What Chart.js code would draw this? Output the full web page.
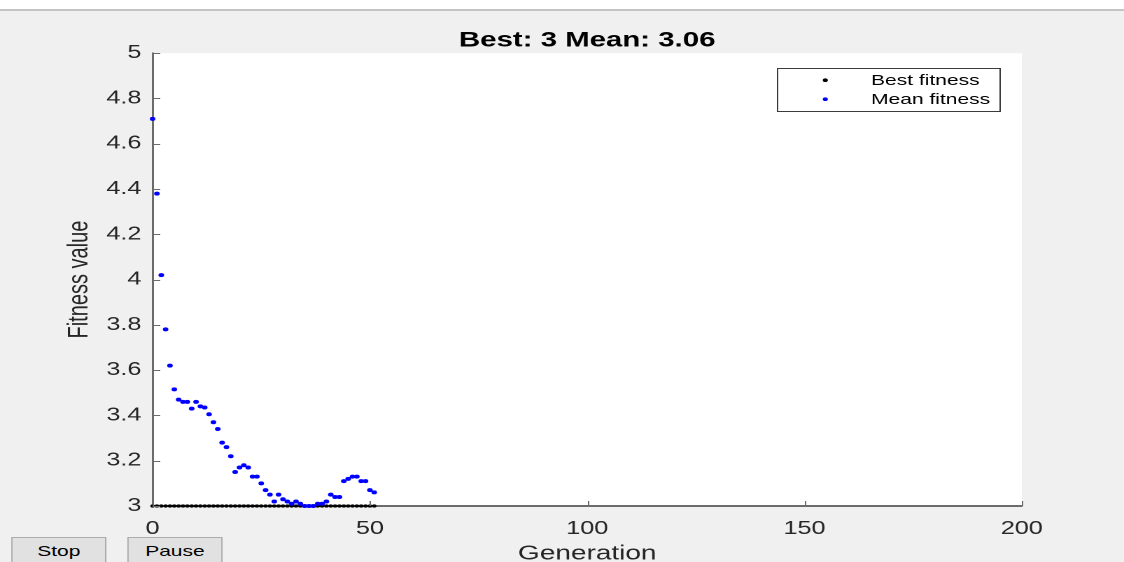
<!DOCTYPE html>
<html>
<head>
<meta charset="utf-8">
<script src="https://cdn.jsdelivr.net/npm/chart.js@4.4.1/dist/chart.umd.min.js"></script>
<style>
  html, body { margin: 0; padding: 0; background: #f0f0f0; overflow: hidden; }
  /* the reference screenshot is stretched sideways, so the whole figure is too */
  #stage { position: absolute; left: 0; top: 0; width: 803px; height: 562px; transform: scaleX(1.39975); transform-origin: 0 0; }
  .btn { position: absolute; top: 537px; width: 68px; height: 27px; box-sizing: border-box; background: #e1e1e1; border: 1px solid #adadad; font: 15px "Liberation Sans", Arial, sans-serif; color: #000; text-align: center; line-height: 25px; }
</style>
</head>
<body>
<div id="stage">
  <canvas id="myChart"></canvas>
  <div class="btn" style="left:8px">Stop</div>
  <div class="btn" style="left:91px">Pause</div>
</div>
<script>
const generations = [0, 1, 2, 3, 4, 5, 6, 7, 8, 9, 10, 11, 12, 13, 14, 15, 16, 17, 18, 19, 20, 21, 22, 23, 24, 25,
  26, 27, 28, 29, 30, 31, 32, 33, 34, 35, 36, 37, 38, 39, 40, 41, 42, 43, 44, 45, 46, 47, 48, 49, 50, 51];
const bestFitness = [3, 3, 3, 3, 3, 3, 3, 3, 3, 3, 3, 3, 3, 3, 3, 3, 3, 3, 3, 3, 3, 3, 3, 3, 3, 3,
  3, 3, 3, 3, 3, 3, 3, 3, 3, 3, 3, 3, 3, 3, 3, 3, 3, 3, 3, 3, 3, 3, 3, 3, 3, 3];
const meanFitness = [4.71, 4.38, 4.02, 3.78, 3.62, 3.515, 3.47, 3.46, 3.46, 3.43, 3.46, 3.44, 3.435, 3.405,
  3.37, 3.34, 3.28, 3.26, 3.22, 3.15, 3.17, 3.18, 3.17, 3.13, 3.13, 3.10, 3.07, 3.05, 3.02, 3.05,
  3.03, 3.02, 3.01, 3.02, 3.01, 3.00, 3.00, 3.00, 3.01, 3.01, 3.02, 3.05, 3.04, 3.04, 3.11, 3.12,
  3.13, 3.13, 3.11, 3.11, 3.07, 3.06];
const xTickValues = [0, 50, 100, 150, 200];
const yTickValues = [3, 3.2, 3.4, 3.6, 3.8, 4, 4.2, 4.4, 4.6, 4.8, 5];

const FONT = '"Liberation Sans", Arial, sans-serif';
const AXIS = '#6b6b6b';

const toPoints = (ys) => generations.map((g, i) => ({ x: g, y: ys[i] }));

// grey window, white top strip and white axes area
const backdrop = {
  id: 'backdrop',
  beforeDraw(chart) {
    const { ctx, width, height, chartArea: a } = chart;
    ctx.save();
    ctx.fillStyle = '#f0f0f0';
    ctx.fillRect(0, 0, width, height);
    ctx.fillStyle = '#ffffff';
    ctx.fillRect(0, 0, width, 9);
    ctx.fillStyle = '#c4c4c4';
    ctx.fillRect(0, 9, width, 2);
    ctx.fillStyle = '#ffffff';
    ctx.fillRect(a.left, a.top, a.right - a.left, a.bottom - a.top);
    ctx.restore();
  }
};

// matlab style ticks pointing into the axes
const innerTicks = {
  id: 'innerTicks',
  afterDraw(chart) {
    const { ctx, chartArea: a } = chart;
    const xs = chart.scales.x, ys = chart.scales.y;
    ctx.save();
    ctx.strokeStyle = AXIS;
    ctx.lineWidth = 1;
    ctx.beginPath();
    xs.ticks.forEach(t => {
      const px = Math.round(xs.getPixelForValue(t.value)) + 0.5;
      ctx.moveTo(px, a.bottom);
      ctx.lineTo(px, a.bottom - 5);
    });
    ys.ticks.forEach(t => {
      const py = Math.round(ys.getPixelForValue(t.value)) + 0.5;
      ctx.moveTo(a.left, py);
      ctx.lineTo(a.left + 5.5, py);
    });
    ctx.stroke();
    ctx.restore();
  }
};

// boxed legend in the upper right of the axes
const boxLegend = {
  id: 'boxLegend',
  afterDraw(chart) {
    const { ctx, chartArea: a } = chart;
    const w = 159, h = 43;
    const x0 = a.right - 15.7 - w, y0 = a.top + 14.3;
    ctx.save();
    ctx.fillStyle = '#ffffff';
    ctx.fillRect(x0, y0, w, h);
    ctx.strokeStyle = '#3a3a3a';
    ctx.lineWidth = 1;
    ctx.strokeRect(Math.round(x0) + 0.5, Math.round(y0) + 0.5, w, h);
    ctx.font = '15px ' + FONT;
    ctx.textBaseline = 'middle';
    ctx.textAlign = 'left';
    chart.data.datasets.forEach((ds, i) => {
      const cy = y0 + 12.7 + i * 19;
      ctx.fillStyle = ds.backgroundColor;
      ctx.beginPath();
      ctx.arc(x0 + 34.3, cy, 1.8, 0, Math.PI * 2);
      ctx.fill();
      ctx.fillStyle = '#000000';
      ctx.fillText(ds.label, x0 + 67, cy + 0.5);
    });
    ctx.restore();
  }
};

new Chart(document.getElementById('myChart'), {
  type: 'scatter',
  data: {
    datasets: [
      {
        label: 'Best fitness',
        data: toPoints(bestFitness),
        backgroundColor: '#000000',
        borderColor: '#000000',
        pointRadius: 1.6,
        pointBorderWidth: 0,
        order: 2,
        clip: false
      },
      {
        label: 'Mean fitness',
        data: toPoints(meanFitness),
        backgroundColor: '#0000ff',
        borderColor: '#0000ff',
        pointRadius: 2,
        pointBorderWidth: 0,
        order: 1,
        clip: false
      }
    ]
  },
  options: {
    responsive: true,
    maintainAspectRatio: false,
    devicePixelRatio: 2,
    animation: false,
    layout: { padding: { left: 0, right: 73, top: 0, bottom: 0 } },
    plugins: {
      legend: { display: false },
      tooltip: { enabled: false },
      title: {
        display: true,
        fullSize: false,
        text: 'Best: 3 Mean: 3.06',
        color: '#000000',
        font: { family: FONT, size: 21, weight: 'bold', lineHeight: 1.2 },
        padding: { top: 28, bottom: 0 }
      }
    },
    scales: {
      x: {
        type: 'linear',
        min: 0,
        max: 200,
        afterBuildTicks: (s) => { s.ticks = xTickValues.map(v => ({ value: v })); },
        afterFit: (s) => { s.height = 56; },
        grid: { display: false, drawTicks: false },
        border: { display: true, color: AXIS, width: 2 },
        ticks: { color: '#262626', padding: 12, maxRotation: 0, font: { family: FONT, size: 18 } },
        title: {
          display: true,
          text: 'Generation',
          color: '#262626',
          font: { family: FONT, size: 20, lineHeight: 1 },
          padding: { top: 0, bottom: -2 }
        }
      },
      y: {
        type: 'linear',
        min: 3,
        max: 5,
        afterBuildTicks: (s) => { s.ticks = yTickValues.map(v => ({ value: v })); },
        afterFit: (s) => { s.width = 109; },
        grid: { display: false, drawTicks: false },
        border: { display: true, color: AXIS, width: 1.5 },
        ticks: {
          color: '#262626',
          padding: 8,
          font: { family: FONT, size: 18 },
          callback: (v) => String(Number(v.toFixed(1)))
        },
        title: {
          display: true,
          text: 'Fitness value',
          color: '#262626',
          font: { family: FONT, size: 20, lineHeight: 1 },
          padding: { top: 47, bottom: 0 }
        }
      }
    }
  },
  plugins: [backdrop, innerTicks, boxLegend]
});
</script>
</body>
</html>
